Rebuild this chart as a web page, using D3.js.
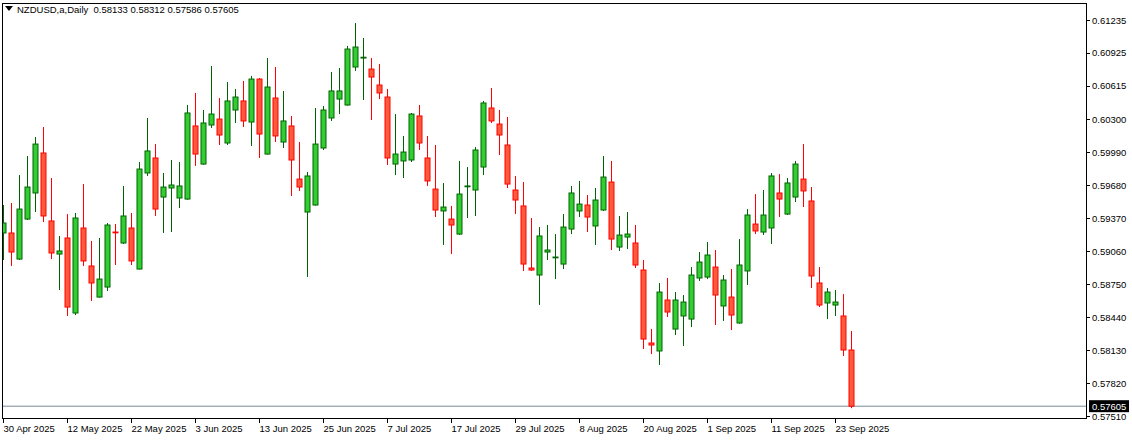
<!DOCTYPE html>
<html><head><meta charset="utf-8">
<script src="https://cdn.jsdelivr.net/npm/d3@7"></script>
<style>body{margin:0;background:#fff}svg{display:block}text{font-family:"Liberation Sans",Arial,sans-serif}</style>
</head><body><svg id="c" width="1132" height="440"></svg>
<script>
const opens=[.59233,.59233,.58988,.59364,.59609,.59985,.59346,.59035,.59186,.58481,.59280,.58923,.58631,.58725,.59242,.59139,.59280,.58894,.59797,.59938,.59571,.59656,.59562,.59552,.60239,.59881,.60248,.60304,.60079,.60389,.60474,.60276,.60680,.59975,.60502,.60088,.60239,.59740,.59430,.59496,.60032,.60314,.60492,.60436,.60793,.60878,.60774,.60624,.60511,.59881,.59910,.59919,.60333,.59938,.59646,.59440,.59364,.59223,.59675,.59637,.59853,.60408,.60257,.60060,.59637,.59487,.58904,.58838,.59054,.59007,.58941,.59270,.59440,.59496,.59299,.59449,.59712,.59101,.59195,.59139,.58885,.58199,.58124,.58603,.58330,.58453,.58424,.58810,.58819,.58913,.58547,.58631,.58387,.58876,.59317,.59242,.59280,.59609,.59411,.59571,.59740,.59534,.58763,.58575,.58556,.58453,.58133];
const highs=[.59496,.59515,.59778,.59957,.60135,.60229,.59750,.59205,.59411,.59421,.59693,.59158,.59186,.59327,.59317,.59675,.59421,.59900,.60314,.60069,.59797,.59919,.59900,.60436,.60549,.60389,.60803,.60502,.60652,.60586,.60662,.60709,.60690,.60878,.60793,.60568,.60333,.60088,.59806,.60408,.60427,.60746,.60784,.60991,.61207,.61066,.60878,.60821,.60586,.60351,.60145,.60361,.60436,.60145,.60060,.59703,.59487,.59910,.59853,.60041,.60474,.60596,.60389,.60323,.59769,.59712,.59374,.59289,.59308,.59223,.59411,.59675,.59722,.59590,.59656,.59957,.59910,.59393,.59430,.59308,.58979,.58330,.58763,.58810,.58678,.58650,.58913,.59054,.59148,.59073,.58838,.58894,.59176,.59458,.59599,.59637,.59797,.59787,.59750,.59910,.60069,.59665,.58913,.58716,.58697,.58659,.58312];
const lows=[.58979,.58923,.58979,.59355,.59430,.59336,.58988,.58697,.58453,.58462,.58923,.58594,.58625,.58688,.58932,.59130,.58932,.58890,.59769,.59393,.59233,.59242,.59468,.59545,.59863,.59875,.60220,.60060,.60060,.60267,.60229,.60051,.59938,.59970,.60088,.60032,.59581,.59628,.58819,.59490,.60013,.60286,.60351,.60430,.60756,.60483,.60295,.60492,.59872,.59778,.59750,.59900,.60013,.59675,.59383,.59120,.59035,.59215,.59374,.59393,.59778,.60267,.59966,.59656,.59411,.58876,.58876,.58556,.58979,.58800,.58894,.59223,.59383,.59242,.59120,.59440,.59073,.59064,.59082,.58904,.58142,.58095,.57992,.58443,.58274,.58171,.58349,.58782,.58800,.58368,.58406,.58321,.58380,.58744,.59223,.59214,.59129,.59383,.59402,.59524,.59477,.58716,.58537,.58424,.58453,.58077,.57586];
const closes=[.59327,.59054,.59458,.59665,.60069,.59393,.59045,.59064,.58537,.59374,.58970,.58763,.58800,.59308,.59240,.59393,.58970,.59834,.60004,.59458,.59665,.59684,.59675,.60361,.59975,.60267,.60351,.60154,.60474,.60511,.60286,.60680,.60163,.60605,.60145,.60286,.59919,.59665,.59769,.60069,.60389,.60568,.60568,.60962,.60981,.60885,.60699,.60549,.59938,.59975,.59994,.60351,.60079,.59722,.59449,.59477,.59308,.59599,.59675,.60013,.60455,.60286,.60154,.59693,.59543,.58941,.58885,.59205,.59073,.59007,.59289,.59609,.59505,.59383,.59543,.59759,.59176,.59214,.59223,.58932,.58236,.58180,.58678,.58490,.58603,.58584,.58838,.58960,.59026,.58650,.58791,.58462,.58932,.59402,.59252,.59402,.59769,.59552,.59703,.59881,.59628,.58829,.58556,.58678,.58584,.58133,.57605];
const priceTicks=[0.61235,0.60925,0.60615,0.60300,0.59990,0.59680,0.59370,0.59060,0.58750,0.58440,0.58130,0.57820,0.57510];
const dateLabels=["30 Apr 2025","12 May 2025","22 May 2025","3 Jun 2025","13 Jun 2025","25 Jun 2025","7 Jul 2025","17 Jul 2025","29 Jul 2025","8 Aug 2025","20 Aug 2025","1 Sep 2025","11 Sep 2025","23 Sep 2025"];
const dateIdx=[0,8,16,24,32,40,48,56,64,72,80,88,96,104];
const title="NZDUSD,a,Daily  0.58133 0.58312 0.57586 0.57605";
const lastPrice=0.57605;

const svg=d3.select("#c");
const L=2,R=1086,T=3,B=418;
const x=d3.scaleLinear().domain([0,106]).range([3.3,851.3]);
const y=d3.scaleLinear().domain([0.57510,0.61235]).range([416.3,20]);
const data=opens.map((o,i)=>({i,o,h:highs[i],l:lows[i],c:closes[i]}));
svg.append("defs").append("clipPath").attr("id","cp").append("rect").attr("x",L).attr("y",T).attr("width",R-L).attr("height",B-T);
const g=svg.append("g").attr("clip-path","url(#cp)");
g.append("line").attr("x1",L).attr("x2",R).attr("y1",y(lastPrice)).attr("y2",y(lastPrice)).attr("stroke","#778899").attr("stroke-width",1);
const c=g.selectAll("g.k").data(data).join("g");
c.append("line").attr("x1",d=>Math.round(x(d.i))+0.5).attr("x2",d=>Math.round(x(d.i))+0.5)
 .attr("y1",d=>y(d.h)).attr("y2",d=>y(d.l)).attr("stroke",d=>d.c>=d.o?"#006400":"#ff0000");
c.append("rect").attr("x",d=>Math.round(x(d.i))-2).attr("width",5)
 .attr("y",d=>y(Math.max(d.o,d.c))).attr("height",d=>Math.max(0.8,Math.abs(y(d.o)-y(d.c))))
 .attr("fill",d=>d.c>=d.o?"#32cd32":"#ff5a3c").attr("stroke",d=>d.c>=d.o?"#006400":"#ff0000").attr("stroke-width",1);
svg.append("rect").attr("x",L+0.5).attr("y",T+0.5).attr("width",R-L).attr("height",B-T).attr("fill","none").attr("stroke","#000");
const ya=svg.append("g");
priceTicks.forEach(p=>{
  ya.append("line").attr("x1",R).attr("x2",R+4).attr("y1",Math.round(y(p))+0.5).attr("y2",Math.round(y(p))+0.5).attr("stroke","#000");
  ya.append("text").attr("x",R+6).attr("y",y(p)+3.5).attr("font-size",9.5).text(p.toFixed(5));
});
const ly=y(lastPrice);
svg.append("rect").attr("x",R+3).attr("y",ly-6).attr("width",40).attr("height",12).attr("fill","#000");
svg.append("text").attr("x",R+6).attr("y",ly+3.5).attr("font-size",9.5).attr("fill","#fff").text(lastPrice.toFixed(5));
dateIdx.forEach((di,k)=>{
  const xx=Math.round(x(di))+0.5;
  svg.append("line").attr("x1",xx).attr("x2",xx).attr("y1",B).attr("y2",B+5).attr("stroke","#000");
  svg.append("text").attr("x",xx).attr("y",432).attr("font-size",9.5).text(dateLabels[k]);
});
svg.append("path").attr("d","M5,6 L13,6 L9,11 Z").attr("fill","#000");
svg.append("text").attr("x",17).attr("y",13).attr("font-size",9.5).text(title.replace("  ","\u00a0\u00a0"));
</script></body></html>
